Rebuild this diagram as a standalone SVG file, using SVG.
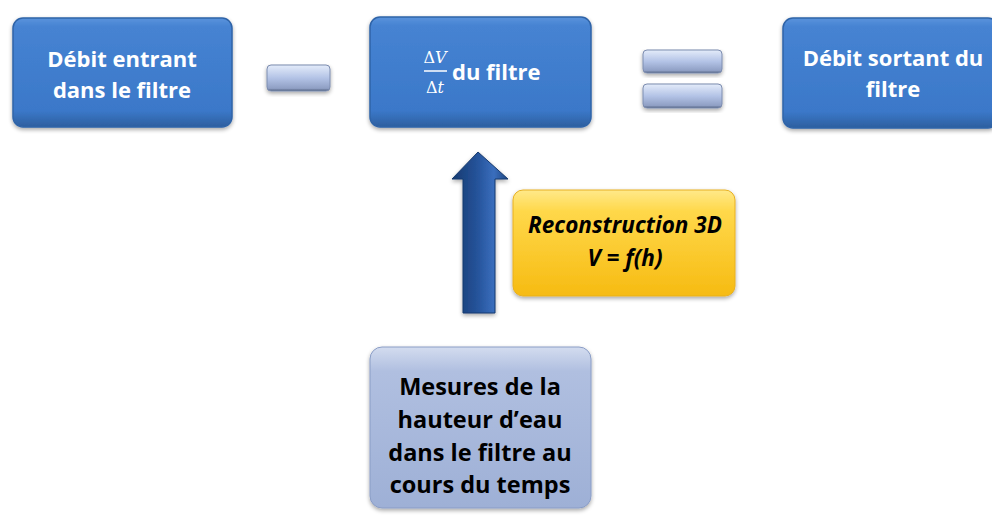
<svg xmlns="http://www.w3.org/2000/svg" width="992" height="516" viewBox="0 0 992 516">
<defs>
<linearGradient id="gBlue" x1="0" y1="0" x2="0" y2="1">
<stop offset="0" stop-color="#5a93dc"/>
<stop offset="0.08" stop-color="#4683d2"/>
<stop offset="0.85" stop-color="#3b78c9"/>
<stop offset="1" stop-color="#2d5f9f"/>
</linearGradient>
<linearGradient id="gGray" x1="0" y1="0" x2="0" y2="1">
<stop offset="0" stop-color="#d3dcef"/>
<stop offset="0.15" stop-color="#b0bfe0"/>
<stop offset="1" stop-color="#9eb0d6"/>
</linearGradient>
<linearGradient id="gYellow" x1="0" y1="0" x2="0" y2="1">
<stop offset="0" stop-color="#ffe98a"/>
<stop offset="0.2" stop-color="#ffd84a"/>
<stop offset="1" stop-color="#f6bb12"/>
</linearGradient>
<linearGradient id="gBar" x1="0" y1="0" x2="0" y2="1">
<stop offset="0" stop-color="#e4ecfa"/>
<stop offset="0.5" stop-color="#b3c3e6"/>
<stop offset="0.9" stop-color="#8f9fc4"/>
<stop offset="1" stop-color="#4e5e7c"/>
</linearGradient>
<linearGradient id="gArrow" x1="0" y1="0" x2="1" y2="0">
<stop offset="0" stop-color="#163a70"/>
<stop offset="0.45" stop-color="#25539a"/>
<stop offset="0.75" stop-color="#3a6ebd"/>
<stop offset="1" stop-color="#1e4580"/>
</linearGradient>
<filter id="sh" x="-10%" y="-10%" width="120%" height="130%">
<feGaussianBlur in="SourceAlpha" stdDeviation="2"/>
<feOffset dy="2"/>
<feComponentTransfer><feFuncA type="linear" slope="0.35"/></feComponentTransfer>
<feMerge><feMergeNode/><feMergeNode in="SourceGraphic"/></feMerge>
</filter>
</defs>
<style>
.blue{fill:url(#gBlue);stroke:#2f64a8;stroke-width:1.5}
.gray{fill:url(#gGray);stroke:#8a9dc6;stroke-width:1}
.yellow{fill:url(#gYellow);stroke:#e8b020;stroke-width:1}
.bar{fill:url(#gBar);stroke:#7d8db0;stroke-width:1}
.tw{font-family:"Open Sans","Liberation Sans",sans-serif;font-weight:700;font-size:22px;fill:#ffffff;text-anchor:middle}
.tb{font-family:"Open Sans","Liberation Sans",sans-serif;font-weight:700;font-size:23.5px;fill:#000000;text-anchor:middle}
.ti{font-family:"Open Sans","Liberation Sans",sans-serif;font-weight:700;font-style:italic;font-size:22.5px;fill:#000000;text-anchor:middle}
.math{font-family:"DejaVu Serif","Liberation Serif",serif;font-size:16px;fill:#ffffff;text-anchor:middle}
</style>
<rect width="992" height="516" fill="#ffffff"/>
<g id="debit-entrant">
<rect class="blue" x="13" y="18" width="219" height="109" rx="10" filter="url(#sh)"/>
<text class="tw" x="122" y="67">Débit entrant</text>
<text class="tw" x="122" y="98">dans le filtre</text>
</g>
<g id="moins">
<rect class="bar" x="267" y="65" width="63" height="26" rx="4" filter="url(#sh)"/>
</g>
<g id="dvdt">
<rect class="blue" x="370" y="17" width="221" height="110" rx="10" filter="url(#sh)"/>
<text class="math" x="435" y="63">Δ<tspan font-style="italic">V</tspan></text>
<line x1="424" y1="71" x2="447" y2="71" stroke="#ffffff" stroke-width="1.5"/>
<text class="math" x="435" y="93">Δ<tspan font-style="italic">t</tspan></text>
<text class="tw" x="452" y="80" style="text-anchor:start">du filtre</text>
</g>
<g id="egal">
<rect class="bar" x="643" y="50" width="79" height="23" rx="4" filter="url(#sh)"/>
<rect class="bar" x="643" y="84" width="79" height="24" rx="4" filter="url(#sh)"/>
</g>
<g id="debit-sortant">
<rect class="blue" x="783" y="18" width="215" height="110" rx="10" filter="url(#sh)"/>
<text class="tw" x="893" y="66">Débit sortant du</text>
<text class="tw" x="893" y="97">filtre</text>
</g>
<g id="reconstruction">
<rect class="yellow" x="513" y="190" width="222" height="106" rx="10" filter="url(#sh)"/>
<text class="ti" x="625" y="233">Reconstruction 3D</text>
<text class="ti" x="625" y="266">V = f(h)</text>
</g>
<g id="mesures">
<rect class="gray" x="370" y="347" width="221" height="161" rx="12" filter="url(#sh)"/>
<text class="tb" x="480" y="395">Mesures de la</text>
<text class="tb" x="480" y="428">hauteur d’eau</text>
<text class="tb" x="480" y="461">dans le filtre au</text>
<text class="tb" x="480" y="493">cours du temps</text>
</g>
<g id="connecteurs">
<path d="M463,313 L463,179 L452,179 L478,152 L508,179 L495,179 L495,313 Z" fill="url(#gArrow)" stroke="#173a6e" stroke-width="1" filter="url(#sh)"/>
</g>
</svg>
